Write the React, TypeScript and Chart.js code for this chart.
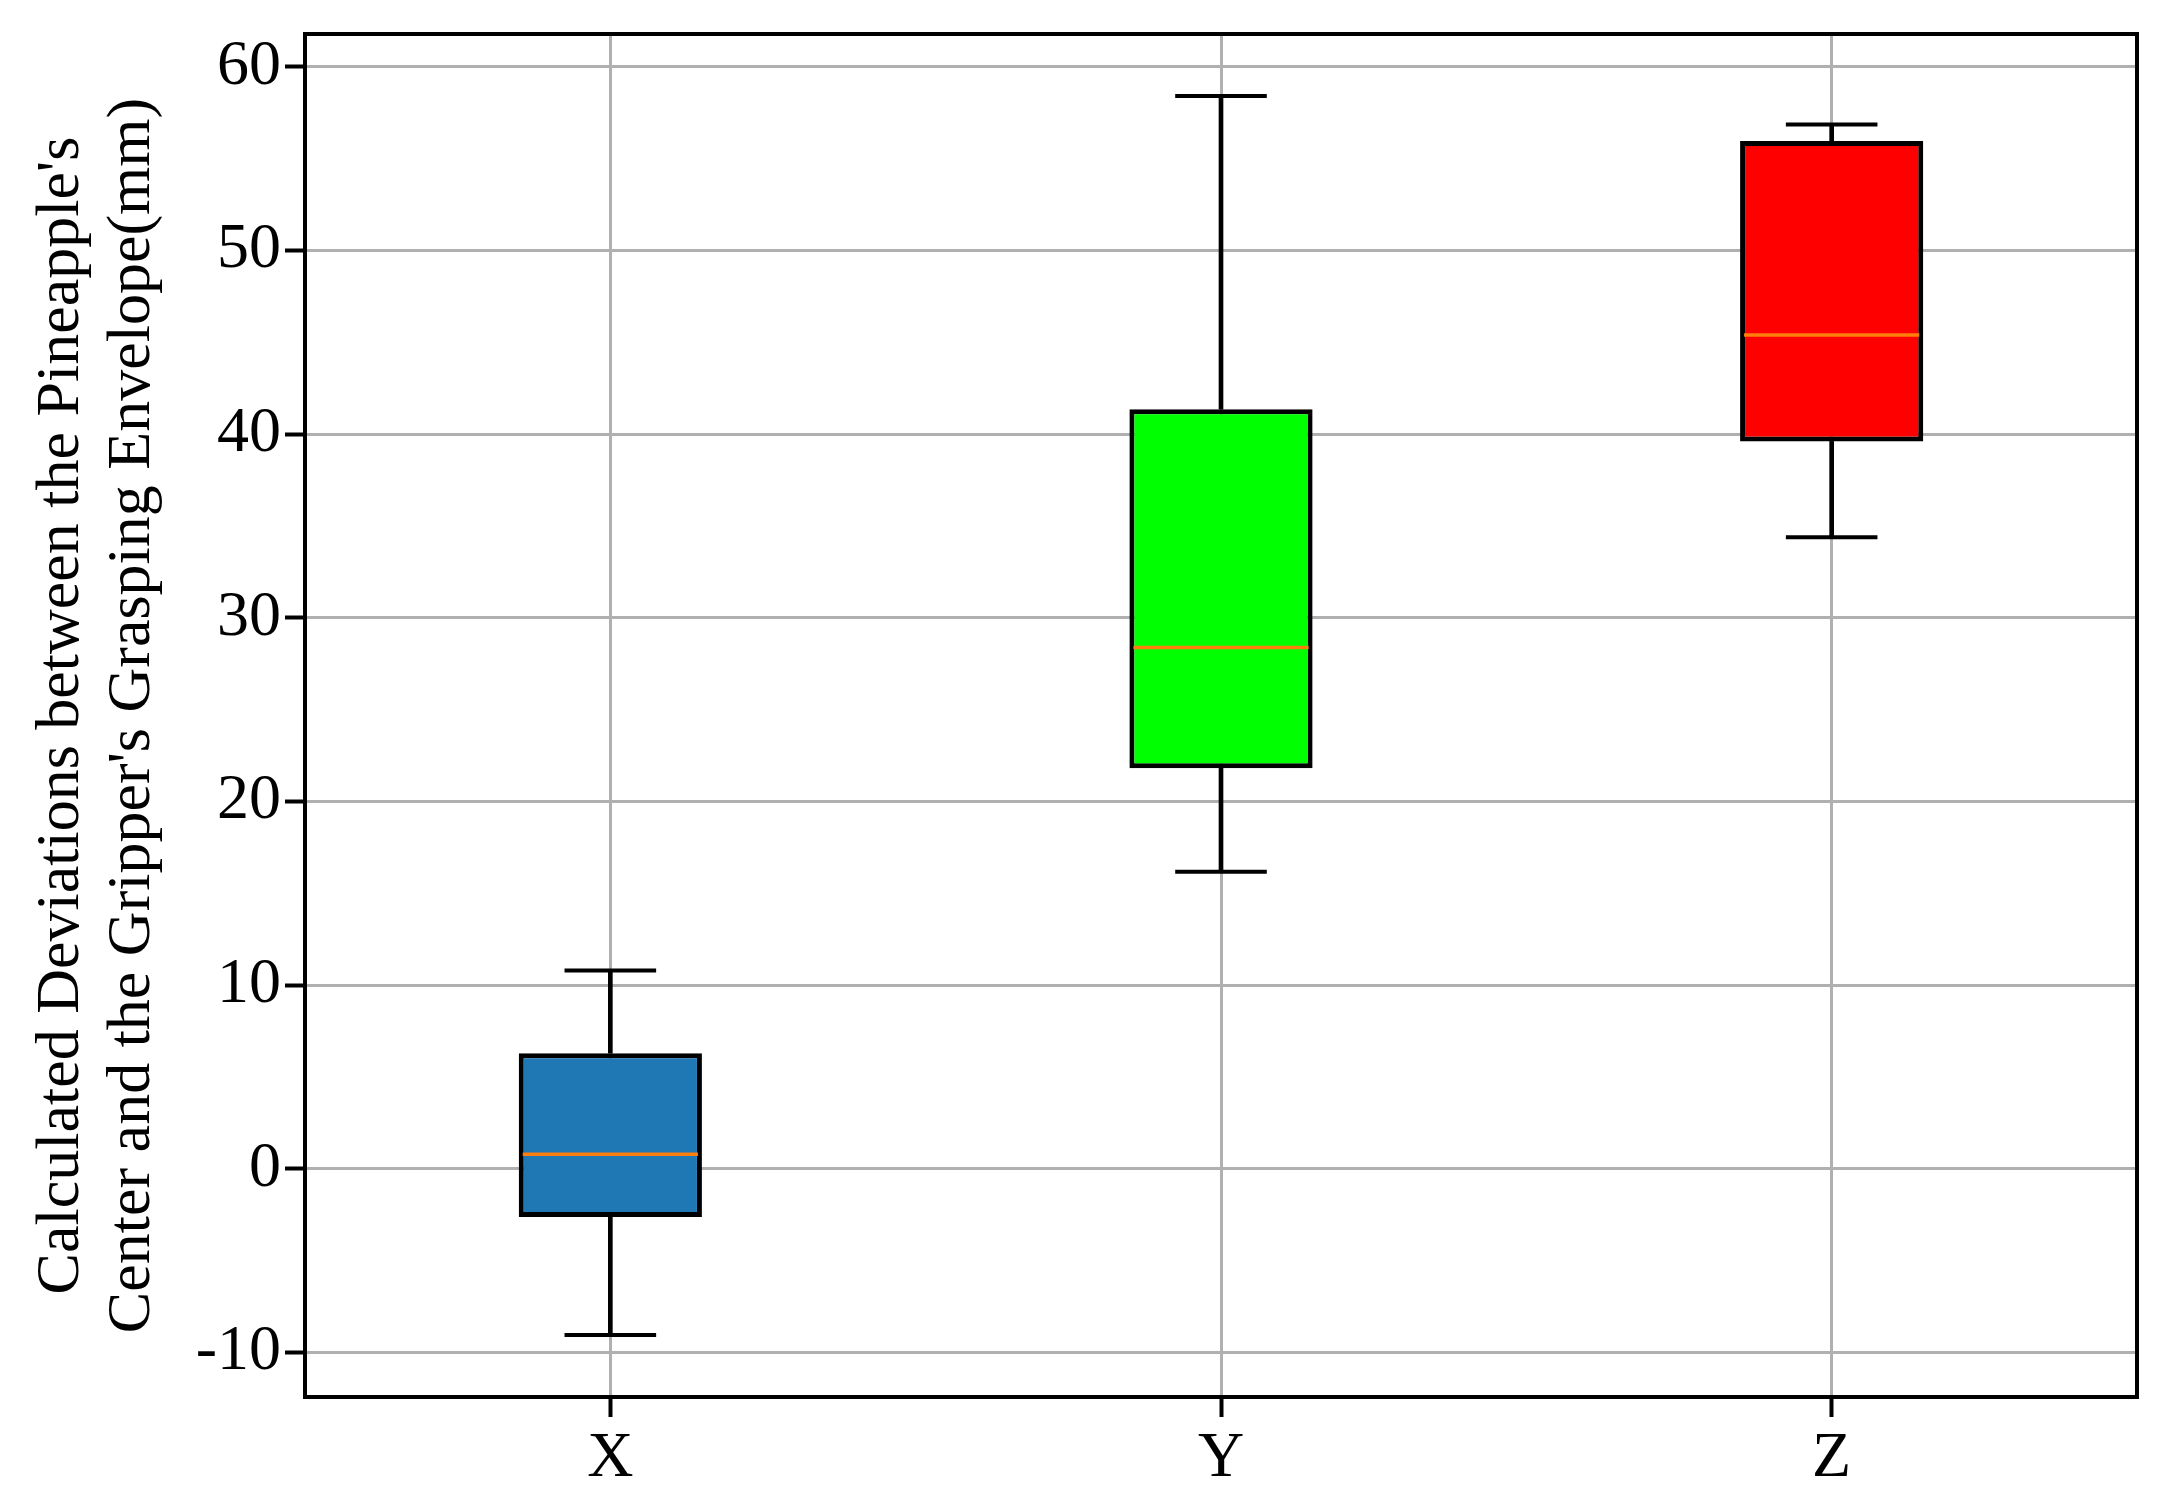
import React, { useEffect, useRef } from "react";
import { Chart, registerables } from "chart.js";

Chart.register(...registerables);

// ---- data ----
const categories = ["X", "Y", "Z"];
const whiskerLow = [-9.05, 16.17, 34.39];
const q1 = [-2.62, 21.81, 39.6];
const median = [0.8, 28.38, 45.39];
const q3 = [6.3, 41.35, 55.95];
const whiskerHigh = [10.8, 58.41, 56.85];
const boxColors = ["#1f77b4", "#00ff00", "#ff0000"];
const yTicks = [-10, 0, 10, 20, 30, 40, 50, 60];
const yMin = -12.42;
const yMax = 61.78;
const yLabel = [
  "Calculated Deviations between the Pineapple's",
  "Center and the Gripper's Grasping Envelope(mm)",
];

const FONT = "'Liberation Serif', 'Times New Roman', serif";
const GRID = "#b0b0b0";

const unitPx = (c: any): number => {
  const xs = c?.chart?.scales?.x;
  if (!xs) return 610;
  return Math.abs(xs.getPixelForValue(1) - xs.getPixelForValue(0));
};

const framePlugin = {
  id: "frame",
  afterDatasetsDraw(chart: any) {
    const { ctx, chartArea } = chart;
    const { left, top, right, bottom } = chartArea;
    ctx.save();
    ctx.strokeStyle = "#000";
    ctx.lineWidth = 4;
    ctx.strokeRect(left, top, right - left, bottom - top);
    ctx.restore();
  },
};

export default function App() {
  const ref = useRef<HTMLCanvasElement | null>(null);

  useEffect(() => {
    if (!ref.current) return;
    const chart = new Chart(ref.current, {
      type: "bar",
      data: {
        labels: categories,
        datasets: [
          {
            type: "line",
            label: "median",
            data: median,
            showLine: false,
            pointStyle: "line",
            pointRadius: (c: any) => unitPx(c) * 0.15 - 4,
            pointBorderWidth: 3.5,
            pointBorderColor: "#ff7f0e",
            pointBackgroundColor: "#ff7f0e",
            order: 0,
          } as any,
          {
            type: "bar",
            label: "box",
            data: categories.map((_, i) => [q1[i], q3[i]]),
            backgroundColor: boxColors,
            borderColor: "#000",
            borderWidth: 5,
            borderSkipped: false,
            barPercentage: 0.3,
            categoryPercentage: 1,
            grouped: false,
            order: 1,
          } as any,
          {
            type: "line",
            label: "capHigh",
            data: whiskerHigh,
            showLine: false,
            pointStyle: "line",
            pointRadius: (c: any) => unitPx(c) * 0.075,
            pointBorderWidth: 4,
            pointBorderColor: "#000",
            pointBackgroundColor: "#000",
            order: 2,
          } as any,
          {
            type: "line",
            label: "capLow",
            data: whiskerLow,
            showLine: false,
            pointStyle: "line",
            pointRadius: (c: any) => unitPx(c) * 0.075,
            pointBorderWidth: 4,
            pointBorderColor: "#000",
            pointBackgroundColor: "#000",
            order: 2,
          } as any,
          {
            type: "bar",
            label: "whiskerHigh",
            data: categories.map((_, i) => [q3[i], whiskerHigh[i]]),
            backgroundColor: "#000",
            borderWidth: 0,
            barThickness: 4,
            grouped: false,
            order: 3,
          } as any,
          {
            type: "bar",
            label: "whiskerLow",
            data: categories.map((_, i) => [whiskerLow[i], q1[i]]),
            backgroundColor: "#000",
            borderWidth: 0,
            barThickness: 4,
            grouped: false,
            order: 3,
          } as any,
        ],
      },
      options: {
        responsive: false,
        animation: false,
        devicePixelRatio: 1,
        events: [],
        layout: { padding: { top: 34, right: 21, left: 0, bottom: 0 } },
        plugins: {
          legend: { display: false },
          tooltip: { enabled: false },
        },
        scales: {
          x: {
            type: "category",
            offset: true,
            grid: {
              display: true,
              offset: false,
              color: GRID,
              lineWidth: 3,
              drawTicks: true,
              tickLength: 20,
              tickColor: "#000",
              tickWidth: 4,
            },
            border: { display: false },
            ticks: { font: { family: FONT, size: 64 }, color: "#000", padding: 4 },
            afterFit: (s: any) => {
              s.height = 102;
              s.paddingLeft = 0;
              s.paddingRight = 0;
            },
          },
          y: {
            type: "linear",
            min: yMin,
            max: yMax,
            grid: {
              display: true,
              color: GRID,
              lineWidth: 3,
              drawTicks: true,
              tickLength: 20,
              tickColor: "#000",
              tickWidth: 4,
            },
            border: { display: false },
            afterBuildTicks: (s: any) => {
              s.ticks = yTicks.map((v) => ({ value: v }));
            },
            ticks: { font: { family: FONT, size: 64 }, color: "#000", padding: 4 },
            title: {
              display: true,
              text: yLabel,
              color: "#000",
              font: { family: FONT, size: 62, lineHeight: 1.15 },
              padding: { top: 26, bottom: 0 },
            },
            afterFit: (s: any) => {
              s.width = 305;
              s.paddingTop = 0;
              s.paddingBottom = 0;
            },
          },
        },
      } as any,
      plugins: [framePlugin],
    });
    return () => chart.destroy();
  }, []);

  return (
    <div style={{ position: "absolute", left: 0, top: 0, width: 2158, height: 1499, background: "#fff" }}>
      <canvas ref={ref} width={2158} height={1499} style={{ width: 2158, height: 1499, display: "block" }} />
    </div>
  );
}
